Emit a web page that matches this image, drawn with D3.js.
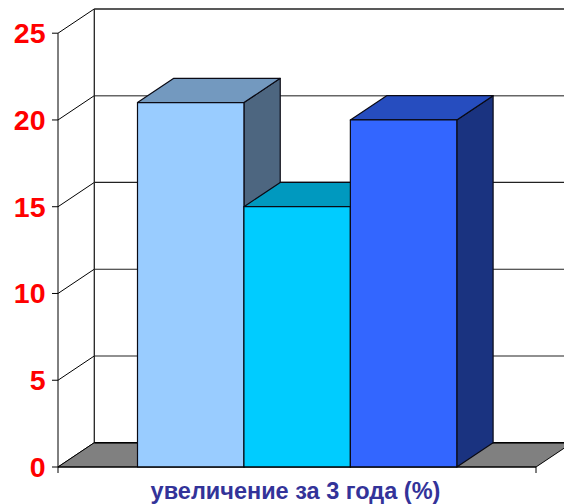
<!DOCTYPE html>
<html><head><meta charset="utf-8">
<script src="https://cdn.jsdelivr.net/npm/d3@7"></script>
<style>html,body{margin:0;padding:0;background:#fff}svg{display:block}</style>
</head><body><svg id="c" width="564" height="504"></svg>
<script>
const categories = ["A","B","C"];
const values = [21, 15, 20];
const yTicks = [0,5,10,15,20,25];
const frontColors = ["#99ccff","#00ccff","#3366ff"];
const topColors = ["#7399bf","#0099bf","#264dbf"];
const sideColors = ["#4d6680","#006680","#1a3380"];
const axisTitle = "увеличение за 3 года (%)";

const svg = d3.select("#c");
const dx = 36.3, dy = -24.3;
const y = d3.scaleLinear().domain([0,25]).range([467,33.2]);
const x = d3.scaleBand().domain(categories).range([137.5,456.8]).padding(0);
const x0 = 58, x1 = 536;
const ink = "#000";

const grid = svg.append("g");
yTicks.forEach(t=>{
  if(t>0){
    grid.append("line").attr("x1",x0+dx).attr("x2",x1+dx).attr("y1",y(t)+dy).attr("y2",y(t)+dy)
      .attr("stroke",t===25?"#222":(t===20?"#666":"#222")).attr("stroke-width",t>=20?1.5:1.1);
  }
  grid.append("line").attr("x1",x0).attr("x2",x0+dx).attr("y1",y(t)).attr("y2",y(t)+dy)
    .attr("stroke",ink).attr("stroke-width",1);
});
grid.append("line").attr("x1",x0+dx).attr("x2",x0+dx).attr("y1",y(0)+dy).attr("y2",y(25)+dy)
  .attr("stroke","#222").attr("stroke-width",1.3);
svg.append("polygon").attr("fill","#808080").attr("stroke",ink).attr("stroke-width",1)
  .attr("points",[[x0,y(0)],[x0+dx,y(0)+dy],[x1+dx,y(0)+dy],[x1,y(0)]].join(" "));
svg.append("line").attr("x1",x0+dx).attr("x2",x1+dx).attr("y1",y(0)+dy).attr("y2",y(0)+dy)
  .attr("stroke",ink).attr("stroke-width",1.6);

const line = d3.line();
const bars = svg.append("g").selectAll("g").data(categories.map((c,i)=>({c,i,v:values[i]}))).join("g");
bars.each(function(d){
  const g = d3.select(this), l=x(d.c), r=l+x.bandwidth(), t=y(d.v), b=y(0);
  const st = {stroke:"#0a0a14","stroke-width":1.2,"stroke-linejoin":"round"};
  const add=(pts,fill)=>{const p=g.append("path").attr("d",line(pts)+"Z").attr("fill",fill);for(const k in st)p.attr(k,st[k]);};
  add([[r,b],[r+dx,b+dy],[r+dx,t+dy],[r,t]],sideColors[d.i]);
  add([[l,t],[l+dx,t+dy],[r+dx,t+dy],[r,t]],topColors[d.i]);
  add([[l,t],[r,t],[r,b],[l,b]],frontColors[d.i]);
});

const ax = svg.append("g");
ax.append("line").attr("x1",x0).attr("x2",x0).attr("y1",y(25)).attr("y2",y(0)+6).attr("stroke",ink);
ax.append("line").attr("x1",x0).attr("x2",x1).attr("y1",y(0)).attr("y2",y(0)).attr("stroke",ink);
ax.append("line").attr("x1",x1).attr("x2",x1).attr("y1",y(0)).attr("y2",y(0)+6).attr("stroke",ink);
yTicks.forEach(t=>{
  ax.append("line").attr("x1",x0-6).attr("x2",x0).attr("y1",y(t)).attr("y2",y(t)).attr("stroke",ink);
  ax.append("text").attr("x",45.5).attr("y",y(t)+10).attr("text-anchor","end")
    .attr("font-family","'Liberation Sans',Arial,sans-serif").attr("font-weight","bold")
    .attr("font-size",28.5).attr("fill","#ff0000").text(t);
});
svg.append("text").attr("x",295.5).attr("y",499).attr("text-anchor","middle")
  .attr("font-family","'Liberation Sans',Arial,sans-serif").attr("font-weight","bold")
  .attr("font-size",23.5).attr("fill","#333399").text(axisTitle);
</script></body></html>
